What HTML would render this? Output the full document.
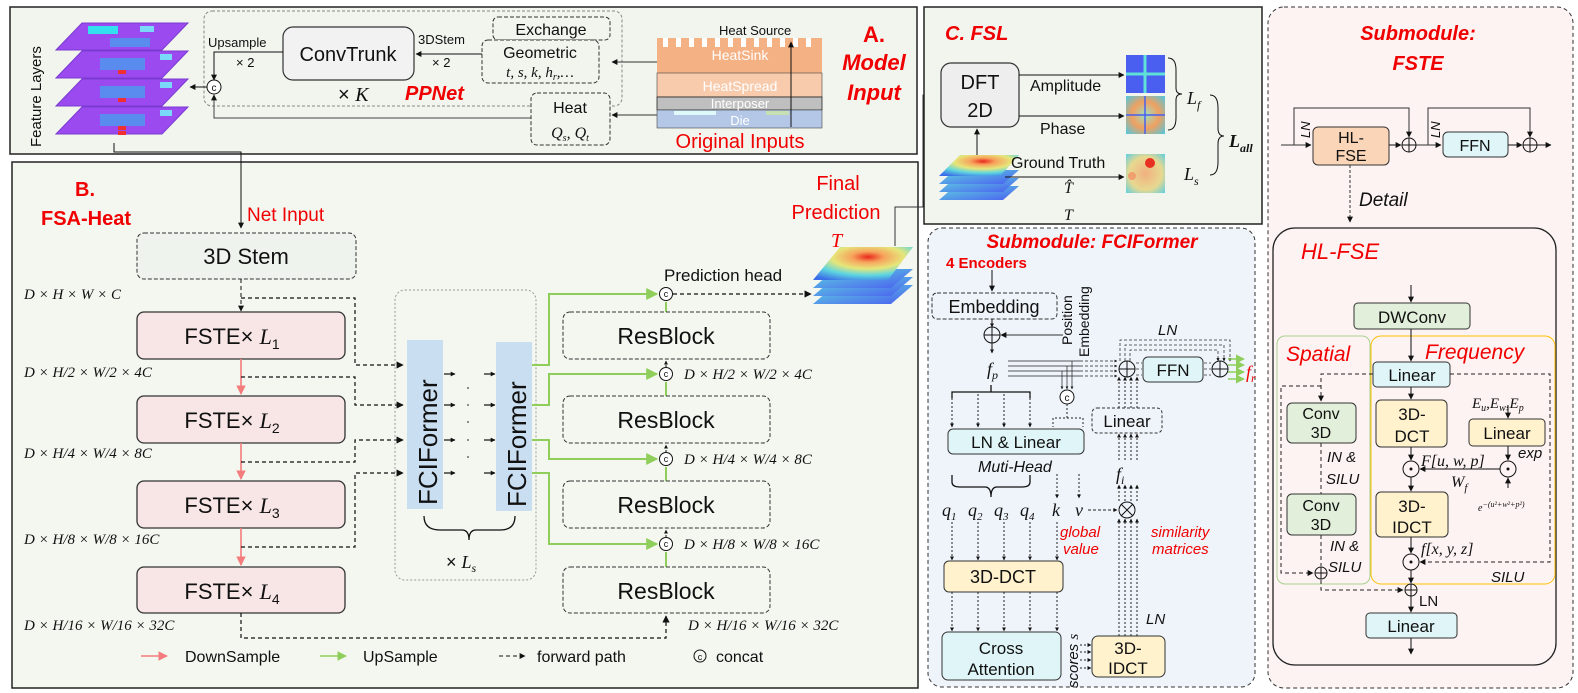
<!DOCTYPE html>
<html><head><meta charset="utf-8"><style>
html,body{margin:0;padding:0;background:#fff}
svg{display:block}
text{font-family:"Liberation Sans",sans-serif;fill:#111}
.m{font-family:"Liberation Serif",serif;font-style:italic}
.r{fill:#f00000}
</style></head><body>
<svg width="1578" height="693" viewBox="0 0 1578 693" xmlns="http://www.w3.org/2000/svg">
<defs>
<marker id="a" viewBox="0 0 10 10" refX="9" refY="5" markerWidth="6" markerHeight="6" orient="auto"><path d="M0,0L10,5L0,10z" fill="#111"/></marker>
<marker id="as" viewBox="0 0 10 10" refX="9" refY="5" markerWidth="4" markerHeight="4" orient="auto"><path d="M0,0L10,5L0,10z" fill="#111"/></marker>
<marker id="g" viewBox="0 0 10 10" refX="9" refY="5" markerWidth="6" markerHeight="6" orient="auto"><path d="M0,0L10,5L0,10z" fill="#8fce5a"/></marker>
<marker id="p" viewBox="0 0 10 10" refX="9" refY="5" markerWidth="6" markerHeight="6" orient="auto"><path d="M0,0L10,5L0,10z" fill="#f47c7c"/></marker>
<radialGradient id="heat" cx="0.55" cy="0.3" r="0.8"><stop offset="0" stop-color="#e8281c"/><stop offset="0.2" stop-color="#f7a35c"/><stop offset="0.45" stop-color="#e6e67a"/><stop offset="0.7" stop-color="#5fd6e0"/><stop offset="1" stop-color="#3a6ee8"/></radialGradient>
<linearGradient id="cool" x1="0" y1="0" x2="1" y2="1"><stop offset="0" stop-color="#5fd6e0"/><stop offset="1" stop-color="#4a5ef0"/></linearGradient>
<radialGradient id="gt" cx="0.5" cy="0.5" r="0.7"><stop offset="0" stop-color="#f0b080"/><stop offset="0.6" stop-color="#e8d890"/><stop offset="1" stop-color="#60d0e0"/></radialGradient>
<radialGradient id="ph" cx="0.5" cy="0.5" r="0.7"><stop offset="0" stop-color="#a0e0c0"/><stop offset="0.5" stop-color="#f0a060"/><stop offset="1" stop-color="#50c8e0"/></radialGradient>
</defs>

<!-- ============ Panel A ============ -->
<rect x="10" y="7" width="907" height="147" fill="#f2f5ee" stroke="#222" stroke-width="1.5"/>
<text x="0" y="0" font-size="15" transform="translate(41,147) rotate(-90)">Feature Layers</text>
<g>
<g><polygon points="56,50 82,23 188,23 162,50" fill="#9b4af0" stroke="#7a3ad0"/><rect x="88" y="26" width="30" height="8" fill="#33e0f0"/><rect x="140" y="26" width="14" height="6" fill="#7ad8f8"/><rect x="110" y="38" width="40" height="9" fill="#5a8cf0"/></g>
<g transform="translate(0,28)"><polygon points="56,50 82,23 188,23 162,50" fill="#9b4af0" stroke="#7a3ad0"/><rect x="100" y="30" width="45" height="12" fill="#5a8cf0"/><rect x="160" y="26" width="12" height="6" fill="#7ad8f8"/><rect x="118" y="42" width="8" height="4" fill="#f03030"/></g>
<g transform="translate(0,56)"><polygon points="56,50 82,23 188,23 162,50" fill="#9b4af0" stroke="#7a3ad0"/><rect x="100" y="30" width="45" height="12" fill="#5a8cf0"/><rect x="160" y="26" width="12" height="6" fill="#7ad8f8"/><rect x="118" y="42" width="8" height="4" fill="#f03030"/></g>
<g transform="translate(0,84)"><polygon points="56,50 82,23 188,23 162,50" fill="#9b4af0" stroke="#7a3ad0"/><rect x="100" y="30" width="45" height="12" fill="#5a8cf0"/><rect x="160" y="26" width="12" height="6" fill="#7ad8f8"/><rect x="118" y="42" width="8" height="4" fill="#f03030"/><rect x="118" y="47" width="8" height="4" fill="#f03030"/></g>
</g>
<rect x="204" y="11" width="418" height="95" rx="8" fill="none" stroke="#888" stroke-dasharray="3,2"/>
<rect x="283" y="27" width="131" height="53" rx="10" fill="#f2f2f2" stroke="#333" stroke-width="1.2"/>
<text x="348" y="61" font-size="20" text-anchor="middle">ConvTrunk</text>
<text x="208" y="47" font-size="13">Upsample</text>
<text x="236" y="67" font-size="13">× 2</text>
<text x="418" y="44" font-size="13">3DStem</text>
<text x="432" y="67" font-size="13">× 2</text>
<rect x="493" y="17" width="117" height="23" rx="5" fill="none" stroke="#333" stroke-dasharray="4,2"/>
<text x="551" y="35" font-size="16" text-anchor="middle">Exchange</text>
<rect x="482" y="40" width="117" height="43" rx="6" fill="#f2f5ee" stroke="#333" stroke-dasharray="4,2"/>
<text x="540" y="58" font-size="16" text-anchor="middle">Geometric</text>
<text x="540" y="77" font-size="15" text-anchor="middle" class="m">t, s, k, h<tspan font-size="10" dy="3">r</tspan><tspan dy="-3">,…</tspan></text>
<line x1="482" y1="54" x2="416" y2="54" stroke="#111" marker-end="url(#a)"/>
<path d="M283,52 H214 V80" fill="none" stroke="#111" marker-end="url(#a)"/>
<circle cx="214" cy="87" r="7" fill="#fff" stroke="#111"/><text x="214" y="91" font-size="10" text-anchor="middle">c</text>
<line x1="207" y1="87" x2="190" y2="87" stroke="#111" marker-end="url(#a)"/>
<text x="338" y="101" font-size="20">× <tspan class="m">K</tspan></text>
<text x="405" y="100" font-size="20" font-weight="bold" font-style="italic" class="r">PPNet</text>
<rect x="531" y="93" width="79" height="52" rx="6" fill="#f2f5ee" stroke="#333" stroke-dasharray="4,2"/>
<text x="570" y="113" font-size="16" text-anchor="middle">Heat</text>
<text x="570" y="138" font-size="16" text-anchor="middle" class="m">Q<tspan font-size="10" dy="3">s</tspan><tspan dy="-3">, Q</tspan><tspan font-size="10" dy="3">t</tspan></text>
<path d="M531,118 H214 V95" fill="none" stroke="#444" marker-end="url(#a)"/>
<line x1="657" y1="62" x2="612" y2="62" stroke="#333" marker-end="url(#a)"/>
<line x1="657" y1="115" x2="612" y2="115" stroke="#333" marker-end="url(#a)"/>
<rect x="657" y="38" width="165" height="35" fill="#f4b183"/>
<g fill="#fff"><rect x="663" y="38" width="5" height="9"/><rect x="676" y="38" width="5" height="9"/><rect x="689" y="38" width="5" height="9"/><rect x="702" y="38" width="5" height="9"/><rect x="715" y="38" width="5" height="9"/><rect x="728" y="38" width="5" height="9"/><rect x="741" y="38" width="5" height="9"/><rect x="754" y="38" width="5" height="9"/><rect x="767" y="38" width="5" height="9"/><rect x="780" y="38" width="5" height="9"/><rect x="793" y="38" width="5" height="9"/><rect x="806" y="38" width="5" height="9"/></g>
<rect x="657" y="73" width="165" height="24" fill="#f8cbad" stroke="#444" stroke-width="0.6"/>
<rect x="657" y="97" width="165" height="13" fill="#bfbfbf" stroke="#222" stroke-width="0.8"/>
<rect x="657" y="110" width="165" height="18" fill="#b4c7e7" stroke="#444" stroke-width="0.6"/>
<rect x="674" y="111" width="42" height="4" fill="#dff8f8"/><rect x="766" y="111" width="23" height="4" fill="#c6e0b4"/>
<text x="740" y="60" font-size="14" text-anchor="middle" style="fill:#fff">HeatSink</text>
<text x="740" y="91" font-size="14" text-anchor="middle" style="fill:#fff">HeatSpread</text>
<text x="740" y="108" font-size="13" text-anchor="middle" style="fill:#fff">Interposer</text>
<text x="740" y="125" font-size="13" text-anchor="middle" style="fill:#fff">Die</text>
<text x="719" y="35" font-size="13">Heat Source</text>
<line x1="791" y1="127" x2="791" y2="42" stroke="#111" marker-end="url(#a)"/>
<text x="740" y="148" font-size="20" text-anchor="middle" class="r">Original Inputs</text>
<text x="874" y="42" font-size="22" font-weight="bold" text-anchor="middle" class="r">A.</text>
<text x="874" y="70" font-size="22" font-weight="bold" font-style="italic" text-anchor="middle" class="r">Model</text>
<text x="874" y="100" font-size="22" font-weight="bold" font-style="italic" text-anchor="middle" class="r">Input</text>

<!-- ============ Panel B ============ -->
<rect x="12" y="162" width="906" height="526" fill="#f3f7f0" stroke="#222" stroke-width="1.5"/>
<path d="M114,143 V152 H241 V228" fill="none" stroke="#111" marker-end="url(#a)"/>
<text x="85" y="196" font-size="20" font-weight="bold" text-anchor="middle" class="r">B.</text>
<text x="86" y="225" font-size="20" font-weight="bold" text-anchor="middle" class="r">FSA-Heat</text>
<text x="247" y="221" font-size="19" class="r">Net Input</text>
<rect x="137" y="233" width="219" height="46" rx="7" fill="#eef3ee" stroke="#333" stroke-dasharray="4,2"/>
<text x="246" y="264" font-size="22" text-anchor="middle">3D Stem</text>
<g font-size="15">
<text x="24" y="299" class="m">D × H × W × C</text>
<text x="24" y="377" class="m">D × H/2 × W/2 × 4C</text>
<text x="24" y="458" class="m">D × H/4 × W/4 × 8C</text>
<text x="24" y="544" class="m">D × H/8 × W/8 × 16C</text>
<text x="24" y="630" class="m">D × H/16 × W/16 × 32C</text>
<text x="684" y="379" class="m">D × H/2 × W/2 × 4C</text>
<text x="684" y="464" class="m">D × H/4 × W/4 × 8C</text>
<text x="684" y="549" class="m">D × H/8 × W/8 × 16C</text>
<text x="688" y="630" class="m">D × H/16 × W/16 × 32C</text>
</g>
<line x1="241" y1="279" x2="241" y2="311" stroke="#111" stroke-dasharray="4,3" marker-end="url(#a)"/>
<g fill="#f8e6e6" stroke="#333" stroke-width="1.3">
<rect x="137" y="312" width="208" height="47" rx="7"/><rect x="137" y="396" width="208" height="47" rx="7"/>
<rect x="137" y="481" width="208" height="47" rx="7"/><rect x="137" y="567" width="208" height="46" rx="7"/>
</g>
<g font-size="22" text-anchor="middle">
<text x="232" y="344">FSTE× <tspan class="m">L</tspan><tspan font-size="14" dy="5">1</tspan></text>
<text x="232" y="428">FSTE× <tspan class="m">L</tspan><tspan font-size="14" dy="5">2</tspan></text>
<text x="232" y="513">FSTE× <tspan class="m">L</tspan><tspan font-size="14" dy="5">3</tspan></text>
<text x="232" y="599">FSTE× <tspan class="m">L</tspan><tspan font-size="14" dy="5">4</tspan></text>
</g>
<g stroke="#f47c7c" stroke-width="1.6"><line x1="241" y1="359" x2="241" y2="394" marker-end="url(#p)"/><line x1="241" y1="443" x2="241" y2="479" marker-end="url(#p)"/><line x1="241" y1="528" x2="241" y2="565" marker-end="url(#p)"/></g>
<g fill="none" stroke="#111" stroke-dasharray="4,3" stroke-width="1.2">
<path d="M241,298 H355 V365 H403" marker-end="url(#a)"/>
<path d="M241,377 H355 V405 H403" marker-end="url(#a)"/>
<path d="M241,462 H355 V440 H403" marker-end="url(#a)"/>
<path d="M241,547 H355 V473 H403" marker-end="url(#a)"/>
<path d="M241,613 V638 H666 V616" marker-end="url(#a)"/>
</g>
<rect x="395" y="290" width="141" height="290" rx="10" fill="none" stroke="#999" stroke-dasharray="2,2"/>
<rect x="407" y="340" width="36" height="169" fill="#c9def0"/>
<rect x="496" y="342" width="36" height="169" fill="#c9def0"/>
<text transform="translate(437,505) rotate(-90)" font-size="26">FCIFormer</text>
<text transform="translate(526,507) rotate(-90)" font-size="26">FCIFormer</text>
<g stroke="#111" stroke-width="1.2">
<line x1="444" y1="374" x2="455" y2="374" marker-end="url(#as)"/><line x1="484" y1="374" x2="495" y2="374" marker-end="url(#as)"/>
<line x1="444" y1="405" x2="455" y2="405" marker-end="url(#as)"/><line x1="484" y1="405" x2="495" y2="405" marker-end="url(#as)"/>
<line x1="444" y1="440" x2="455" y2="440" marker-end="url(#as)"/><line x1="484" y1="440" x2="495" y2="440" marker-end="url(#as)"/>
<line x1="444" y1="473" x2="455" y2="473" marker-end="url(#as)"/><line x1="484" y1="473" x2="495" y2="473" marker-end="url(#as)"/>
</g>
<g fill="#444"><circle cx="468" cy="388" r="0.9"/><circle cx="468" cy="405" r="0.9"/><circle cx="468" cy="422" r="0.9"/><circle cx="468" cy="440" r="0.9"/><circle cx="468" cy="457" r="0.9"/></g>
<path d="M424,516 Q424,530 440,530 H462 Q469,530 469,540 Q469,530 476,530 H500 Q515,530 515,516" fill="none" stroke="#111" stroke-width="1.3"/>
<text x="446" y="568" font-size="18">× <tspan class="m">L</tspan><tspan class="m" font-size="12" dy="4">s</tspan></text>
<g fill="none" stroke="#8fce5a" stroke-width="2">
<path d="M532,365 H549 V294 H657" marker-end="url(#g)"/>
<path d="M532,405 H549 V374 H657" marker-end="url(#g)"/>
<path d="M532,440 H549 V459 H657" marker-end="url(#g)"/>
<path d="M532,473 H549 V544 H657" marker-end="url(#g)"/>
<line x1="666" y1="312" x2="666" y2="302"/><line x1="666" y1="396" x2="666" y2="382"/><line x1="666" y1="481" x2="666" y2="467"/><line x1="666" y1="567" x2="666" y2="552"/>
</g>
<g stroke="#111" stroke-dasharray="2,2"><line x1="666" y1="367" x2="666" y2="361" marker-end="url(#as)"/><line x1="666" y1="452" x2="666" y2="445" marker-end="url(#as)"/><line x1="666" y1="537" x2="666" y2="530" marker-end="url(#as)"/></g>
<g fill="#f3f7f0" stroke="#333" stroke-dasharray="4,2">
<rect x="563" y="312" width="207" height="47" rx="7"/><rect x="563" y="396" width="207" height="47" rx="7"/>
<rect x="563" y="481" width="207" height="47" rx="7"/><rect x="563" y="567" width="207" height="46" rx="7"/>
</g>
<g font-size="23" text-anchor="middle"><text x="666" y="344">ResBlock</text><text x="666" y="428">ResBlock</text><text x="666" y="513">ResBlock</text><text x="666" y="599">ResBlock</text></g>
<g fill="#fff" stroke="#111"><circle cx="666" cy="294" r="6.5"/><circle cx="666" cy="374" r="6.5"/><circle cx="666" cy="459" r="6.5"/><circle cx="666" cy="544" r="6.5"/></g>
<g font-size="9" text-anchor="middle"><text x="666" y="297">c</text><text x="666" y="377">c</text><text x="666" y="462">c</text><text x="666" y="547">c</text></g>
<text x="664" y="281" font-size="17">Prediction head</text>
<line x1="673" y1="294" x2="811" y2="294" stroke="#111" stroke-dasharray="4,3" stroke-width="1.2" marker-end="url(#a)"/>
<g><polygon points="813,304 835,285 913,285 891,304" fill="url(#cool)"/><polygon points="813,296 835,277 913,277 891,296" fill="url(#cool)"/><polygon points="813,288 835,269 913,269 891,288" fill="url(#cool)"/><polygon points="813,280 840,247 913,247 888,280" fill="url(#heat)"/></g>
<text x="838" y="190" font-size="20" text-anchor="middle" class="r">Final</text>
<text x="836" y="219" font-size="20" text-anchor="middle" class="r">Prediction</text>
<text x="831" y="247" font-size="20" class="m r">T</text>
<path d="M895,246 V207 H1145 V199" fill="none" stroke="#333" marker-end="url(#a)"/>
<path d="M923,207 V95 H939" fill="none" stroke="#333" marker-end="url(#a)"/>
<line x1="141" y1="656" x2="167" y2="656" stroke="#f47c7c" stroke-width="1.6" marker-end="url(#p)"/>
<text x="185" y="662" font-size="16">DownSample</text>
<line x1="320" y1="656" x2="346" y2="656" stroke="#8fce5a" stroke-width="1.6" marker-end="url(#g)"/>
<text x="363" y="662" font-size="16">UpSample</text>
<line x1="499" y1="656" x2="525" y2="656" stroke="#111" stroke-dasharray="4,3" marker-end="url(#a)"/>
<text x="537" y="662" font-size="16">forward path</text>
<circle cx="700" cy="656" r="6" fill="none" stroke="#111"/><text x="700" y="660" font-size="9" text-anchor="middle">c</text>
<text x="716" y="662" font-size="16">concat</text>

<!-- ============ Panel C ============ -->
<rect x="924" y="7" width="338" height="217" fill="#f2f5ee" stroke="#222" stroke-width="1.5"/>
<text x="945" y="40" font-size="20" font-weight="bold" font-style="italic" class="r">C. FSL</text>
<rect x="941" y="63" width="78" height="64" rx="10" fill="#eeeeee" stroke="#333" stroke-width="1.2"/>
<text x="980" y="89" font-size="20" text-anchor="middle">DFT</text>
<text x="980" y="117" font-size="20" text-anchor="middle">2D</text>
<line x1="1019" y1="75" x2="1124" y2="75" stroke="#111" marker-end="url(#a)"/>
<text x="1030" y="91" font-size="16">Amplitude</text>
<line x1="1019" y1="116" x2="1124" y2="116" stroke="#111" marker-end="url(#a)"/>
<text x="1040" y="134" font-size="16">Phase</text>
<rect x="1126" y="55" width="39" height="38" fill="#4a5ef0"/><line x1="1145" y1="55" x2="1145" y2="93" stroke="#5fe0d8" stroke-width="3"/><line x1="1126" y1="74" x2="1165" y2="74" stroke="#5fe0d8" stroke-width="3"/>
<rect x="1126" y="96" width="39" height="38" fill="url(#ph)"/><line x1="1145" y1="96" x2="1145" y2="134" stroke="#4a5ef0" stroke-width="1.5"/><line x1="1126" y1="115" x2="1165" y2="115" stroke="#4a5ef0" stroke-width="1.5"/>
<path d="M1168,58 Q1176,58 1176,70 V88 Q1176,94 1182,94 Q1176,94 1176,100 V118 Q1176,130 1168,130" fill="none" stroke="#111"/>
<text x="1187" y="104" font-size="18" class="m">L<tspan font-size="12" dy="5">f</tspan></text>
<path d="M1210,95 Q1218,95 1218,108 V128 Q1218,136 1224,136 Q1218,136 1218,144 V162 Q1218,175 1210,175" fill="none" stroke="#111"/>
<text x="1229" y="147" font-size="18" font-weight="bold" class="m">L<tspan font-size="12" dy="5">all</tspan></text>
<text x="1184" y="180" font-size="18" class="m">L<tspan font-size="12" dy="5">s</tspan></text>
<g><polygon points="939,200 955,186 1019,186 1003,200" fill="url(#cool)"/><polygon points="939,192 955,178 1019,178 1003,192" fill="url(#cool)"/><polygon points="939,184 955,170 1019,170 1003,184" fill="url(#cool)"/><polygon points="939,176 960,155 1019,155 1000,176" fill="url(#heat)"/></g>
<line x1="977" y1="155" x2="977" y2="129" stroke="#111" marker-end="url(#a)"/>
<text x="1011" y="168" font-size="16">Ground Truth</text>
<rect x="1126" y="154" width="39" height="39" fill="url(#gt)"/><circle cx="1150" cy="163" r="5" fill="#e83020"/><circle cx="1132" cy="176" r="4" fill="#f0a070"/>
<line x1="1005" y1="177" x2="1124" y2="177" stroke="#111" marker-end="url(#a)"/>
<text x="1064" y="193" font-size="16" class="m">T̂</text>
<text x="1064" y="220" font-size="16" class="m">T</text>

<!-- ============ FSTE submodule ============ -->
<rect x="1268" y="7" width="305" height="681" rx="16" fill="#fdf3f3" stroke="#333" stroke-dasharray="4,3"/>
<text x="1418" y="40" font-size="20" font-weight="bold" font-style="italic" text-anchor="middle" class="r">Submodule:</text>
<text x="1418" y="70" font-size="20" font-weight="bold" font-style="italic" text-anchor="middle" class="r">FSTE</text>
<line x1="1281" y1="145" x2="1311" y2="145" stroke="#333" marker-end="url(#a)"/>
<path d="M1294,145 V108 H1409 V137" fill="none" stroke="#333" marker-end="url(#a)"/>
<text transform="translate(1310,138) rotate(-90)" font-size="13" font-style="italic">LN</text>
<rect x="1313" y="127" width="76" height="38" rx="5" fill="#fbd5b8" stroke="#333"/>
<text x="1351" y="143" font-size="16" text-anchor="middle">HL-</text>
<text x="1351" y="161" font-size="16" text-anchor="middle">FSE</text>
<line x1="1389" y1="145" x2="1401" y2="145" stroke="#111" marker-end="url(#a)"/>
<circle cx="1409" cy="145" r="7" fill="none" stroke="#111"/><path d="M1402,145H1416M1409,138V152" stroke="#111"/>
<line x1="1416" y1="145" x2="1441" y2="145" stroke="#333" marker-end="url(#a)"/>
<path d="M1428,145 V108 H1530 V137" fill="none" stroke="#333" marker-end="url(#a)"/>
<text transform="translate(1440,138) rotate(-90)" font-size="13" font-style="italic">LN</text>
<rect x="1443" y="132" width="65" height="25" rx="5" fill="#dff5f7" stroke="#333"/>
<text x="1475" y="151" font-size="16" text-anchor="middle">FFN</text>
<line x1="1508" y1="145" x2="1522" y2="145" stroke="#111" marker-end="url(#a)"/>
<circle cx="1530" cy="145" r="7" fill="none" stroke="#111"/><path d="M1523,145H1537M1530,138V152" stroke="#111"/>
<line x1="1537" y1="145" x2="1551" y2="145" stroke="#111" marker-end="url(#a)"/>
<line x1="1350" y1="165" x2="1350" y2="222" stroke="#333" stroke-dasharray="3,2" marker-end="url(#a)"/>
<text x="1359" y="206" font-size="19" font-style="italic">Detail</text>

<rect x="1273" y="228" width="283" height="437" rx="22" fill="#fdf3f3" stroke="#222" stroke-width="1.3"/>
<text x="1301" y="259" font-size="22" font-style="italic" class="r">HL-FSE</text>
<line x1="1411" y1="285" x2="1411" y2="302" stroke="#111" marker-end="url(#a)"/>
<rect x="1354" y="303" width="116" height="26" rx="4" fill="#e2efda" stroke="#333"/>
<text x="1412" y="323" font-size="17" text-anchor="middle">DWConv</text>
<rect x="1277" y="336" width="93" height="248" rx="8" fill="none" stroke="#a9d18e"/>
<rect x="1371" y="336" width="184" height="248" rx="10" fill="none" stroke="#ffc000"/>
<text x="1286" y="361" font-size="21" font-style="italic" class="r">Spatial</text>
<text x="1425" y="359" font-size="21" font-style="italic" class="r">Frequency</text>
<line x1="1411" y1="329" x2="1411" y2="361" stroke="#111" marker-end="url(#a)"/>
<rect x="1373" y="362" width="77" height="25" rx="4" fill="#dff5f7" stroke="#333"/>
<text x="1412" y="381" font-size="17" text-anchor="middle">Linear</text>
<g fill="none" stroke="#222" stroke-dasharray="4,3">
<path d="M1373,374 H1321 V401" marker-end="url(#a)"/>
<path d="M1321,386 H1281 V573 H1313" marker-end="url(#a)"/>
<path d="M1321,443 V494"/><path d="M1321,535 V566"/>
<path d="M1321,580 V590 H1403" marker-end="url(#a)"/>
<path d="M1450,374 H1550 V562 H1420" marker-end="url(#a)"/>
</g>
<rect x="1287" y="403" width="69" height="40" rx="5" fill="#e2efda" stroke="#333"/>
<text x="1321" y="419" font-size="16" text-anchor="middle">Conv</text><text x="1321" y="438" font-size="16" text-anchor="middle">3D</text>
<rect x="1287" y="494" width="69" height="41" rx="5" fill="#e2efda" stroke="#333"/>
<text x="1321" y="511" font-size="16" text-anchor="middle">Conv</text><text x="1321" y="530" font-size="16" text-anchor="middle">3D</text>
<g font-size="15" font-style="italic"><text x="1327" y="462">IN &amp;</text><text x="1326" y="484">SILU</text><text x="1330" y="551">IN &amp;</text><text x="1328" y="572">SILU</text></g>
<circle cx="1321" cy="573" r="6" fill="#fdf3f3" stroke="#111"/><path d="M1315,573H1327M1321,567V579" stroke="#111"/>
<line x1="1411" y1="387" x2="1411" y2="399" stroke="#111" marker-end="url(#a)"/>
<rect x="1376" y="400" width="71" height="47" rx="5" fill="#fff2cc" stroke="#333"/>
<text x="1412" y="420" font-size="17" text-anchor="middle">3D-</text><text x="1412" y="442" font-size="17" text-anchor="middle">DCT</text>
<text x="1472" y="408" font-size="15" class="m">E<tspan font-size="10" dy="3">u</tspan><tspan dy="-3">,E</tspan><tspan font-size="10" dy="3">w</tspan><tspan dy="-3">,E</tspan><tspan font-size="10" dy="3">p</tspan></text>
<line x1="1508" y1="405" x2="1508" y2="418" stroke="#111" marker-end="url(#a)"/>
<rect x="1469" y="419" width="76" height="27" rx="4" fill="#fff2cc" stroke="#333"/>
<text x="1507" y="439" font-size="17" text-anchor="middle">Linear</text>
<line x1="1411" y1="447" x2="1411" y2="460" stroke="#111" marker-end="url(#a)"/>
<line x1="1508" y1="446" x2="1508" y2="460" stroke="#111" marker-end="url(#a)"/>
<text x="1518" y="458" font-size="15" font-style="italic">exp</text>
<circle cx="1411" cy="469" r="8" fill="#fdf3f3" stroke="#111"/><circle cx="1411" cy="469" r="1.5" fill="#111"/>
<circle cx="1508" cy="469" r="8" fill="#fdf3f3" stroke="#111"/><circle cx="1508" cy="469" r="1.5" fill="#111"/>
<line x1="1500" y1="469" x2="1420" y2="469" stroke="#111" marker-end="url(#a)"/>
<line x1="1508" y1="488" x2="1508" y2="478" stroke="#111" marker-end="url(#a)"/>
<text x="1421" y="466" font-size="16" class="m">F[u, w, p]</text>
<text x="1451" y="487" font-size="16" class="m">W<tspan font-size="11" dy="4">f</tspan></text>
<text x="1478" y="511" font-size="10" class="m">e<tspan font-size="8" dy="-4">−(u²+w²+p²)</tspan></text>
<line x1="1411" y1="477" x2="1411" y2="491" stroke="#111" marker-end="url(#a)"/>
<rect x="1376" y="492" width="72" height="45" rx="5" fill="#fff2cc" stroke="#333"/>
<text x="1412" y="512" font-size="17" text-anchor="middle">3D-</text><text x="1412" y="533" font-size="17" text-anchor="middle">IDCT</text>
<line x1="1411" y1="537" x2="1411" y2="553" stroke="#111" marker-end="url(#a)"/>
<text x="1421" y="554" font-size="16" class="m">f[x, y, z]</text>
<circle cx="1411" cy="562" r="8" fill="#fdf3f3" stroke="#111"/><circle cx="1411" cy="562" r="1.5" fill="#111"/>
<text x="1491" y="582" font-size="15" font-style="italic">SILU</text>
<line x1="1411" y1="570" x2="1411" y2="583" stroke="#111" marker-end="url(#a)"/>
<circle cx="1411" cy="590" r="6" fill="#fdf3f3" stroke="#111"/><path d="M1405,590H1417M1411,584V596" stroke="#111"/>
<text x="1419" y="606" font-size="15">LN</text>
<line x1="1411" y1="596" x2="1411" y2="612" stroke="#111" marker-end="url(#a)"/>
<rect x="1366" y="613" width="91" height="25" rx="4" fill="#dff5f7" stroke="#333"/>
<text x="1411" y="632" font-size="17" text-anchor="middle">Linear</text>
<line x1="1411" y1="638" x2="1411" y2="654" stroke="#111" marker-end="url(#a)"/>

<!-- ============ FCIFormer submodule ============ -->
<rect x="928" y="228" width="327" height="459" rx="14" fill="#eef4fa" stroke="#333" stroke-dasharray="4,3"/>
<text x="1092" y="248" font-size="19" font-weight="bold" font-style="italic" text-anchor="middle" class="r">Submodule: FCIFormer</text>
<text x="946" y="268" font-size="15" font-weight="bold" class="r">4 Encoders</text>
<line x1="992" y1="270" x2="992" y2="291" stroke="#111" marker-end="url(#a)"/>
<rect x="932" y="293" width="125" height="26" rx="5" fill="none" stroke="#333" stroke-dasharray="4,2"/>
<text x="994" y="313" font-size="18" text-anchor="middle">Embedding</text>
<line x1="992" y1="319" x2="992" y2="327" stroke="#111" marker-end="url(#as)"/>
<circle cx="992" cy="335" r="8" fill="none" stroke="#111"/><path d="M984,335H1000M992,327V343" stroke="#111"/>
<line x1="1063" y1="335" x2="1001" y2="335" stroke="#333" marker-end="url(#a)"/>
<text transform="translate(1072,345) rotate(-90)" font-size="14">Position</text>
<text transform="translate(1089,357) rotate(-90)" font-size="14">Embedding</text>
<line x1="992" y1="343" x2="992" y2="353" stroke="#111" marker-end="url(#as)"/>
<text x="987" y="375" font-size="18" class="m">f<tspan font-size="12" dy="4">p</tspan></text>
<g stroke="#222" stroke-width="0.7" fill="none">
<path d="M1008,361 H1080"/><path d="M1008,366 H1080"/><path d="M1008,371 H1080"/><path d="M1008,376 H1080"/>
</g>
<g stroke="#222" stroke-width="0.7" fill="none" stroke-dasharray="3,2">
<path d="M1080,361 H1117" marker-end="url(#as)"/><path d="M1080,366 H1117" marker-end="url(#as)"/><path d="M1080,371 H1117" marker-end="url(#as)"/><path d="M1080,376 H1117" marker-end="url(#as)"/>
</g>
<g stroke="#222" stroke-width="0.7" fill="none">
<path d="M1072,361 V389" marker-end="url(#as)"/><path d="M1067,366 V389" marker-end="url(#as)"/><path d="M1062,371 V389" marker-end="url(#as)"/>
</g>
<circle cx="1067" cy="397" r="7" fill="#fff" stroke="#111"/><text x="1067" y="401" font-size="10" text-anchor="middle">c</text>
<path d="M1067,404 V418 H1053 V427 M1067,418 H1083 V427" fill="none" stroke="#222" stroke-dasharray="2,2"/>
<path d="M952,398 V392 H1030 V398 M991,385 V392" fill="none" stroke="#111" stroke-width="1.3"/>
<g stroke="#222" stroke-dasharray="2,2"><line x1="952" y1="394" x2="952" y2="427" marker-end="url(#as)"/><line x1="978" y1="394" x2="978" y2="427" marker-end="url(#as)"/><line x1="1004" y1="394" x2="1004" y2="427" marker-end="url(#as)"/><line x1="1030" y1="394" x2="1030" y2="427" marker-end="url(#as)"/></g>
<rect x="948" y="429" width="136" height="25" rx="5" fill="#dff5f7" stroke="#333"/>
<text x="1016" y="448" font-size="17" text-anchor="middle">LN &amp; Linear</text>
<text x="978" y="472" font-size="16" font-style="italic">Muti-Head</text>
<path d="M952,475 V482 Q952,487 960,487 H985 Q991,487 991,497 Q991,487 997,487 H1022 Q1030,487 1030,482 V475" fill="none" stroke="#111" stroke-width="1.3"/>
<g stroke="#222" stroke-dasharray="2,2"><line x1="1057" y1="474" x2="1057" y2="498" marker-end="url(#as)"/><line x1="1079" y1="474" x2="1079" y2="498" marker-end="url(#as)"/></g>
<g font-size="18"><text x="942" y="516" class="m">q<tspan font-size="11" dy="4">1</tspan></text><text x="968" y="516" class="m">q<tspan font-size="11" dy="4">2</tspan></text><text x="994" y="516" class="m">q<tspan font-size="11" dy="4">3</tspan></text><text x="1020" y="516" class="m">q<tspan font-size="11" dy="4">4</tspan></text><text x="1052" y="516" class="m">k</text><text x="1075" y="516" class="m">v</text></g>
<line x1="1088" y1="510" x2="1117" y2="510" stroke="#222" stroke-dasharray="3,2" marker-end="url(#as)"/>
<circle cx="1127" cy="510" r="8" fill="none" stroke="#111"/><path d="M1121,504L1133,516M1133,504L1121,516" stroke="#111"/>
<g font-size="15" font-style="italic"><text x="1060" y="537" class="r">global</text><text x="1063" y="554" class="r">value</text><text x="1151" y="537" class="r">similarity</text><text x="1152" y="554" class="r">matrices</text></g>
<g stroke="#222" stroke-dasharray="2,2"><line x1="952" y1="522" x2="952" y2="560" marker-end="url(#as)"/><line x1="978" y1="522" x2="978" y2="560" marker-end="url(#as)"/><line x1="1004" y1="522" x2="1004" y2="560" marker-end="url(#as)"/><line x1="1030" y1="522" x2="1030" y2="560" marker-end="url(#as)"/><line x1="1057" y1="522" x2="1057" y2="560" marker-end="url(#as)"/></g>
<rect x="944" y="561" width="119" height="31" rx="5" fill="#fff2cc" stroke="#333"/>
<text x="1003" y="583" font-size="18" text-anchor="middle">3D-DCT</text>
<g stroke="#222" stroke-dasharray="2,2"><line x1="952" y1="592" x2="952" y2="631" marker-end="url(#as)"/><line x1="978" y1="592" x2="978" y2="631" marker-end="url(#as)"/><line x1="1004" y1="592" x2="1004" y2="631" marker-end="url(#as)"/><line x1="1030" y1="592" x2="1030" y2="631" marker-end="url(#as)"/><line x1="1057" y1="592" x2="1057" y2="631" marker-end="url(#as)"/></g>
<rect x="942" y="632" width="119" height="48" rx="6" fill="#dff5f7" stroke="#333"/>
<text x="1001" y="654" font-size="17" text-anchor="middle">Cross</text><text x="1001" y="675" font-size="17" text-anchor="middle">Attention</text>
<text transform="translate(1078,688) rotate(-90)" font-size="15" font-style="italic">scores <tspan class="m">s</tspan></text>
<g stroke="#222" stroke-dasharray="2,2"><line x1="1080" y1="645" x2="1091" y2="645" marker-end="url(#as)"/><line x1="1080" y1="652" x2="1091" y2="652" marker-end="url(#as)"/><line x1="1080" y1="660" x2="1091" y2="660" marker-end="url(#as)"/><line x1="1080" y1="668" x2="1091" y2="668" marker-end="url(#as)"/></g>
<rect x="1092" y="636" width="73" height="41" rx="6" fill="#fff2cc" stroke="#333"/>
<text x="1128" y="654" font-size="17" text-anchor="middle">3D-</text><text x="1128" y="674" font-size="17" text-anchor="middle">IDCT</text>
<text x="1146" y="624" font-size="15" font-style="italic">LN</text>
<g stroke="#222" stroke-dasharray="2,2">
<line x1="1119" y1="636" x2="1119" y2="519" marker-end="url(#as)"/><line x1="1125" y1="636" x2="1125" y2="519" marker-end="url(#as)"/><line x1="1131" y1="636" x2="1131" y2="519" marker-end="url(#as)"/><line x1="1137" y1="636" x2="1137" y2="519" marker-end="url(#as)"/>
<line x1="1119" y1="501" x2="1119" y2="485" marker-end="url(#as)"/><line x1="1125" y1="501" x2="1125" y2="485" marker-end="url(#as)"/><line x1="1131" y1="501" x2="1131" y2="485" marker-end="url(#as)"/><line x1="1137" y1="501" x2="1137" y2="485" marker-end="url(#as)"/>
<line x1="1119" y1="460" x2="1119" y2="434" marker-end="url(#as)"/><line x1="1125" y1="460" x2="1125" y2="434" marker-end="url(#as)"/><line x1="1131" y1="460" x2="1131" y2="434" marker-end="url(#as)"/><line x1="1137" y1="460" x2="1137" y2="434" marker-end="url(#as)"/>
<line x1="1119" y1="408" x2="1119" y2="377" marker-end="url(#as)"/><line x1="1125" y1="408" x2="1125" y2="377" marker-end="url(#as)"/><line x1="1131" y1="408" x2="1131" y2="377" marker-end="url(#as)"/><line x1="1137" y1="408" x2="1137" y2="377" marker-end="url(#as)"/>
</g>
<g stroke="#333" stroke-width="0.8" fill="none" stroke-dasharray="3,2">
<path d="M1120,361 V340 H1230 V361" marker-end="url(#as)"/><path d="M1125,361 V345 H1224 V361" marker-end="url(#as)"/><path d="M1130,361 V350 H1218 V361" marker-end="url(#as)"/>
<line x1="1136" y1="363" x2="1142" y2="363"/><line x1="1136" y1="369" x2="1142" y2="369"/><line x1="1136" y1="375" x2="1142" y2="375"/>
<line x1="1204" y1="363" x2="1211" y2="363"/><line x1="1204" y1="369" x2="1211" y2="369"/><line x1="1204" y1="375" x2="1211" y2="375"/>
</g>
<text x="1116" y="480" font-size="18" class="m">f<tspan font-size="12" dy="4">i</tspan></text>
<rect x="1092" y="408" width="70" height="25" rx="5" fill="#eef4fa" stroke="#333" stroke-dasharray="3,2"/>
<text x="1127" y="427" font-size="17" text-anchor="middle">Linear</text>
<text x="1158" y="335" font-size="15" font-style="italic">LN</text>
<circle cx="1127" cy="369" r="8" fill="#eef4fa" stroke="#111"/><path d="M1119,369H1135M1127,361V377" stroke="#111"/>
<rect x="1143" y="357" width="60" height="25" rx="5" fill="#dff5f7" stroke="#333"/>
<text x="1173" y="376" font-size="17" text-anchor="middle">FFN</text>
<circle cx="1220" cy="369" r="8" fill="#eef4fa" stroke="#111"/><path d="M1212,369H1228M1220,361V377" stroke="#111"/>
<g stroke="#8fce5a" stroke-width="1.5"><line x1="1228" y1="359" x2="1244" y2="359" marker-end="url(#g)"/><line x1="1228" y1="365" x2="1244" y2="365" marker-end="url(#g)"/><line x1="1228" y1="372" x2="1244" y2="372" marker-end="url(#g)"/><line x1="1228" y1="379" x2="1244" y2="379" marker-end="url(#g)"/></g>
<text x="1246" y="378" font-size="18" class="m r">f<tspan font-size="12" dy="4">r</tspan></text>
</svg>
</body></html>
